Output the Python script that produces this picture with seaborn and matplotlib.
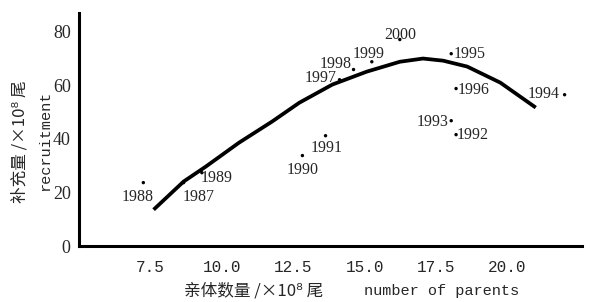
import numpy as np
import pandas as pd
import matplotlib
matplotlib.use('Agg')
import matplotlib.pyplot as plt
import seaborn as sns

# data
years = ['1987', '1988', '1989', '1990', '1991', '1992', '1993',
         '1994', '1995', '1996', '1997', '1998', '1999', '2000']
parents = [8.66, 7.25, 9.3, 12.82, 13.63, 18.2, 18.03,
           22.0, 18.03, 18.2, 14.12, 14.61, 15.25, 16.23]
recruit = [23.7, 23.7, 27.4, 33.8, 41.2, 41.6, 46.8,
           56.5, 71.8, 58.8, 62.1, 65.9, 68.8, 77.1]

# fitted curve, points
curve_x = [7.61, 8.66, 9.44, 10.6, 11.76, 12.71, 13.87, 15.07,
           16.23, 17.04, 17.75, 18.59, 19.75, 20.99]
curve_y = [13.6, 24.1, 29.7, 38.6, 46.5, 53.5, 60.3, 65.1,
           68.8, 70.0, 69.2, 67.0, 61.0, 51.7]

xticks = [7.5, 10.0, 12.5, 15.0, 17.5, 20.0]
yticks = [0, 20, 40, 60, 80]

# label offsets in pixels (dx, dy)
offsets = {'1987': (15, -14), '1988': (-6, -14), '1989': (15, -5),
           '1990': (0, -14), '1991': (1, -12), '1992': (17, 0),
           '1993': (-19, -1), '1994': (-21, 1), '1995': (18, 0),
           '1996': (18, -1), '1997': (-19, 2), '1998': (-18, 6),
           '1999': (-3, 8), '2000': (0, 5)}

pts = pd.DataFrame({'year': years, 'parents': parents, 'recruit': recruit})
fit = pd.DataFrame({'x': curve_x, 'y': curve_y})

sns.set_style('white')
plt.rcParams['font.family'] = ['Liberation Serif', 'DejaVu Serif']

fig = plt.figure(figsize=(5.9, 3.02), dpi=100)
ax = fig.add_axes([0.134, 0.185, 0.852, 0.772])

sns.lineplot(data=fit, x='x', y='y', sort=False, color='black', lw=2.7,
             solid_joinstyle='round', solid_capstyle='butt', ax=ax)
sns.scatterplot(data=pts, x='parents', y='recruit', color='black', s=6,
                edgecolor='none', ax=ax)

for _, r in pts.iterrows():
    dx, dy = offsets[r['year']]
    ax.annotate(r['year'], (r['parents'], r['recruit']), xytext=(dx, dy),
                textcoords='offset pixels', ha='center', va='center',
                fontsize=11.5, family='Liberation Serif')

ax.set_xlim(5, 22.6)
ax.set_ylim(0, 87)
ax.set_xticks(xticks)
ax.set_xticklabels([f'{t:.1f}' for t in xticks], family='Liberation Mono',
                   fontsize=11.5)
ax.set_yticks(yticks)
ax.set_yticklabels([str(t) for t in yticks], family='Liberation Serif', fontsize=13)
ax.tick_params(axis='x', direction='in', length=4, width=1.5, pad=10)
ax.tick_params(axis='y', direction='out', length=4, width=1.5, pad=2)
for s in ['top', 'right']:
    ax.spines[s].set_visible(False)
for s in ['left', 'bottom']:
    ax.spines[s].set_linewidth(2.2)
    ax.spines[s].set_color('black')
ax.set_xlabel('')
ax.set_ylabel('')

cjk = ['Noto Sans CJK SC', 'DejaVu Sans']
fig.text(0.43, 0.036, '亲体数量 /×10⁸ 尾', ha='center', va='center',
         fontsize=12, family=cjk)
fig.text(0.748, 0.036, 'number of parents', ha='center', va='center',
         fontsize=11, family='Liberation Mono')
fig.text(0.034, 0.53, '补充量 /×10⁸ 尾', ha='center', va='center',
         rotation=90, fontsize=12, family=cjk)
fig.text(0.076, 0.533, 'recruitment', ha='center', va='center',
         rotation=90, fontsize=11, family='Liberation Mono')

fig.savefig('out.png', dpi=100)
